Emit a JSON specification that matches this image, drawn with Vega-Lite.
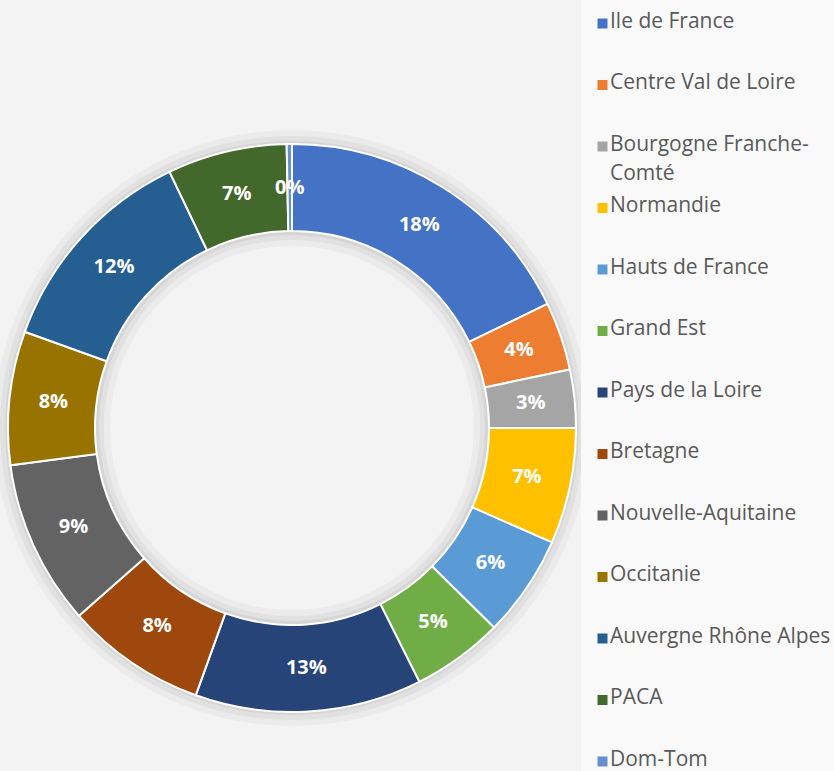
{
  "$schema": "https://vega.github.io/schema/vega-lite/v6.json",
  "width": 568,
  "height": 686,
  "padding": {"left": 8, "top": 85, "right": 258, "bottom": 0},
  "autosize": {"type": "none"},
  "background": "#f3f3f3",
  "config": {
    "view": {"stroke": null},
    "style": {"guide-label": {"lineHeight": 29, "dy": -13}}
  },
  "data": {"values": [
    {"idx": 1, "region": "Ile de France", "share": 0.178},
    {"idx": 2, "region": "Centre Val de Loire", "share": 0.039},
    {"idx": 3, "region": "Bourgogne Franche-Comté", "share": 0.033},
    {"idx": 4, "region": "Normandie", "share": 0.066},
    {"idx": 5, "region": "Hauts de France", "share": 0.058},
    {"idx": 6, "region": "Grand Est", "share": 0.052},
    {"idx": 7, "region": "Pays de la Loire", "share": 0.129},
    {"idx": 8, "region": "Bretagne", "share": 0.080},
    {"idx": 9, "region": "Nouvelle-Aquitaine", "share": 0.094},
    {"idx": 10, "region": "Occitanie", "share": 0.076},
    {"idx": 11, "region": "Auvergne Rhône Alpes", "share": 0.124},
    {"idx": 12, "region": "PACA", "share": 0.068},
    {"idx": 13, "region": "Dom-Tom", "share": 0.003}
  ]},
  "layer": [
    {
      "data": {"values": [{"ring": 1}]},
      "mark": {"type": "arc", "theta": 0, "theta2": 6.2832, "radius": 298, "radius2": 182, "color": "#000000", "opacity": 0.03},
      "encoding": {}
    },
    {
      "data": {"values": [{"ring": 1}]},
      "mark": {"type": "arc", "theta": 0, "theta2": 6.2832, "radius": 292, "radius2": 188, "color": "#000000", "opacity": 0.04},
      "encoding": {}
    },
    {
      "data": {"values": [{"ring": 1}]},
      "mark": {"type": "arc", "theta": 0, "theta2": 6.2832, "radius": 287, "radius2": 193, "color": "#000000", "opacity": 0.05},
      "encoding": {}
    },
    {
      "mark": {"type": "arc", "radius": 284, "radius2": 197, "stroke": "white", "strokeWidth": 2},
      "encoding": {
        "theta": {"field": "share", "type": "quantitative", "stack": true},
        "order": {"field": "idx", "type": "quantitative", "sort": "ascending"},
        "color": {
          "field": "region", "type": "nominal",
          "scale": {
            "domain": ["Ile de France", "Centre Val de Loire", "Bourgogne Franche-Comté", "Normandie", "Hauts de France", "Grand Est", "Pays de la Loire", "Bretagne", "Nouvelle-Aquitaine", "Occitanie", "Auvergne Rhône Alpes", "PACA", "Dom-Tom"],
            "range": ["#4472C4", "#ED7D31", "#A5A5A5", "#FFC000", "#5B9BD5", "#70AD47", "#264478", "#9E480E", "#636363", "#997300", "#255E91", "#43682B", "#698ED0"]
          },
          "legend": {
            "title": null,
            "orient": "none",
            "legendX": 573,
            "legendY": -87,
            "fillColor": "#f9f9f9",
            "padding": 15,
            "symbolType": "square",
            "symbolSize": 100,
            "symbolStrokeWidth": 0,
            "symbolOffset": -4,
            "labelFont": "Open Sans",
            "labelFontSize": 21,
            "labelColor": "#595959",
            "labelOffset": -3,
            "labelLimit": 300,
            "labelBaseline": "top",
            "rowPadding": 10.5,
            "labelExpr": "datum.label == 'Bourgogne Franche-Comté' ? ['Bourgogne Franche-', 'Comté'] : [datum.label, '']"
          }
        }
      }
    },
    {
      "mark": {"type": "text", "radius": 240, "font": "Open Sans", "fontWeight": "bold", "fontSize": 20, "color": "white"},
      "encoding": {
        "theta": {"field": "share", "type": "quantitative", "stack": true},
        "order": {"field": "idx", "type": "quantitative", "sort": "ascending"},
        "text": {"field": "share", "type": "quantitative", "format": ".0%"}
      }
    }
  ]
}
